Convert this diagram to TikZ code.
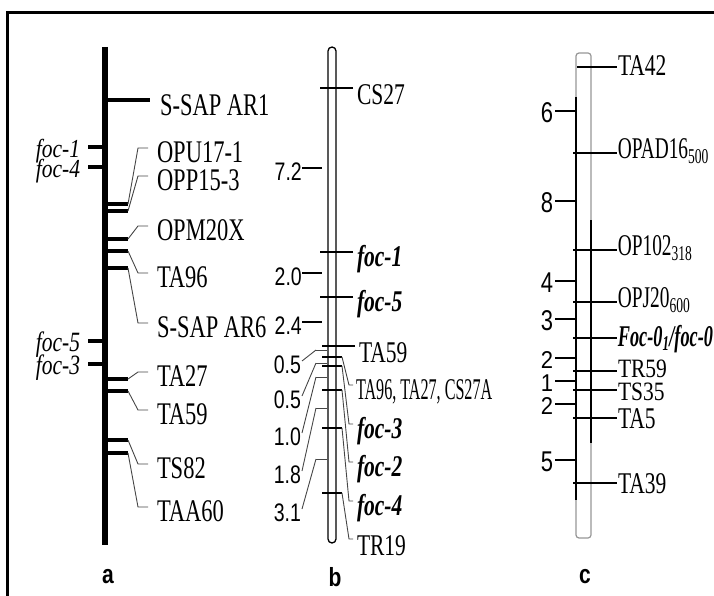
\documentclass[tikz,border=0pt]{standalone}
\usepackage{fontspec}
\setmainfont{Liberation Serif}
\setsansfont{Liberation Sans}
\usetikzlibrary{positioning}
\definecolor{LinkGray}{RGB}{70,70,70}
\definecolor{EdgeGray}{RGB}{150,150,150}

\begin{document}
\begin{tikzpicture}[x=1pt,y=-1pt, every node/.style={inner sep=0pt},
  mlab/.style={anchor=west, yscale=1.4, font=\fontsize{21.5}{22}\selectfont},
  alab/.style={mlab, font=\fontsize{22.5}{23}\selectfont},
  flab/.style={anchor=east, yscale=1.3, font=\fontsize{21.5}{22}\selectfont\itshape},
  fblab/.style={mlab, font=\fontsize{21.5}{22}\selectfont\bfseries\itshape},
  nlab/.style={anchor=east, yscale=1.3, font=\sffamily\fontsize{19.5}{20}\selectfont},
  clab/.style={nlab, font=\sffamily\fontsize{22}{22}\selectfont},
  plab/.style={yscale=1.25, font=\sffamily\bfseries\fontsize{21}{21}\selectfont},
  thickbar/.style={line width=4pt},
  link/.style={LinkGray, line width=0.9pt},
  cross/.style={line width=1.3pt}]
  \useasboundingbox (0,0) rectangle (714,596);
  \draw[line width=3pt] (7,596) -- (7,13) -- (714,13);

  % panel a
  \draw[line width=6.5pt] (105,47) -- (105,545);
  \node[alab, outer xsep=10pt] (sap1) at (150,105) {S-SAP AR1};
  \draw[line width=4.5pt] (105,100) -- ([yshift=5pt]sap1.west);
  \foreach \y in {204,211,239,251,268,379,391,440,453}{
    \draw[thickbar] (105,\y) -- (128,\y);
    \coordinate (a\y) at (128,\y);
  }
  \node[alab, outer xsep=9pt] (opu) at (148,152) {OPU17-1};
  \node[alab, outer xsep=9pt] (opp) at (148,180) {OPP15-3};
  \node[alab, outer xsep=9pt] (opm) at (148,230) {OPM20X};
  \node[alab, outer xsep=9pt] (taa) at (148,277) {TA96};
  \node[alab, outer xsep=9pt] (sap6) at (148,327) {S-SAP AR6};
  \node[alab, outer xsep=9pt] (tab) at (148,376) {TA27};
  \node[alab, outer xsep=9pt] (tac) at (148,414) {TA59};
  \node[alab, outer xsep=9pt] (ts82) at (148,468) {TS82};
  \node[alab, outer xsep=9pt] (taa60) at (148,511) {TAA60};
  \draw[link] (a204) -- ([shift={(-10,-4)}]opu.west) -- ([yshift=4pt]opu.west);
  \draw[link] (a211) -- ([shift={(-10,-4)}]opp.west) -- ([yshift=4pt]opp.west);
  \draw[link] (a239) -- ([shift={(-10,-4)}]opm.west) -- ([yshift=4pt]opm.west);
  \draw[link] (a251) -- ([shift={(-10,-4)}]taa.west) -- ([yshift=4pt]taa.west);
  \draw[link] (a268) -- ([shift={(-10,-4)}]sap6.west) -- ([yshift=4pt]sap6.west);
  \draw[link] (a379) -- ([shift={(-10,-4)}]tab.west) -- ([yshift=4pt]tab.west);
  \draw[link] (a391) -- ([shift={(-10,-4)}]tac.west) -- ([yshift=4pt]tac.west);
  \draw[link] (a440) -- ([shift={(-10,-4)}]ts82.west) -- ([yshift=4pt]ts82.west);
  \draw[link] (a453) -- ([shift={(-10,-4)}]taa60.west) -- ([yshift=4pt]taa60.west);
  \node[flab, outer xsep=8pt, yscale=0.93] (foca1) at (88,151) {foc-1};
  \node[flab, outer xsep=8pt, yscale=0.93] (foca4) at (88,171) {foc-4};
  \node[flab, outer xsep=8pt] (foca5) at (88,345) {foc-5};
  \node[flab, outer xsep=8pt] (foca3) at (88,368) {foc-3};
  \foreach \n in {foca1,foca4,foca5,foca3}
    \draw[thickbar] ([yshift=4pt]\n.east) -- +(17,0);
  \node[plab] (pa) at (108,577) {a};

  % panel b
  \draw[line width=1.3pt, rounded corners=4pt] (328,47) rectangle (336,543);
  \node[mlab, outer xsep=4pt] (cs27) at (353,95) {CS27};
  \node[fblab, outer xsep=4pt] (focb1) at (353,259) {foc-1};
  \node[fblab, outer xsep=4pt] (focb5) at (353,304) {foc-5};
  \node[mlab, outer xsep=4pt] (tad) at (355,353) {TA59};
  \foreach \n in {cs27,focb1,focb5,tad}
    \draw[cross] ([yshift=7pt]\n.west) -- +(-33,0);
  \foreach \y in {357,366,390,428,493}{
    \draw[cross] (322,\y) -- (342,\y);
    \coordinate (b\y) at (342,\y);
  }
  \node[mlab, outer xsep=4pt, xscale=0.75] (trio) at (353,392) {TA96, TA27, CS27A};
  \node[fblab, outer xsep=4pt] (focb3) at (353,431) {foc-3};
  \node[fblab, outer xsep=4pt] (focb2) at (353,469) {foc-2};
  \node[fblab, outer xsep=4pt] (focb4) at (353,508) {foc-4};
  \node[mlab, outer xsep=4pt] (tr19) at (353,546) {TR19};
  \draw[link] (b357) -- ([shift={(-4,-7)}]trio.west) -- ([yshift=7pt]trio.west);
  \draw[link] (b366) -- ([shift={(-4,-7)}]focb3.west) -- ([yshift=7pt]focb3.west);
  \draw[link] (b390) -- ([shift={(-4,-7)}]focb2.west) -- ([yshift=7pt]focb2.west);
  \draw[link] (b428) -- ([shift={(-4,-7)}]focb4.west) -- ([yshift=7pt]focb4.west);
  \draw[link] (b493) -- ([shift={(-4,-7)}]tr19.west) -- ([yshift=7pt]tr19.west);
  \node[nlab] (d72) at (302,172) {7.2};
  \node[nlab] (d20) at (302,277) {2.0};
  \node[nlab] (d24) at (302,326) {2.4};
  \foreach \n in {d72,d20,d24}
    \draw[cross] ([yshift=4pt]\n.east) -- +(20,0);
  \foreach \y in {350,363,377,408,459}{
    \draw[link] (316,\y) -- (327,\y);
    \coordinate (c\y) at (316,\y);
  }
  \node[nlab, outer xsep=1pt] (d05a) at (302,365) {0.5};
  \node[nlab, outer xsep=1pt] (d05b) at (302,400) {0.5};
  \node[nlab, outer xsep=1pt] (d10) at (302,437) {1.0};
  \node[nlab, outer xsep=1pt] (d18) at (302,475) {1.8};
  \node[nlab, outer xsep=1pt] (d31) at (302,513) {3.1};
  \draw[link] (c350) -- ([yshift=4pt]d05a.east);
  \draw[link] (c363) -- ([yshift=4pt]d05b.east);
  \draw[link] (c377) -- ([yshift=4pt]d10.east);
  \draw[link] (c408) -- ([yshift=4pt]d18.east);
  \draw[link] (c459) -- ([yshift=4pt]d31.east);
  \node[plab] (pb) at (335,577) {b};

  % panel c
  \draw[EdgeGray, line width=1.2pt, rounded corners=3pt] (576,53) rectangle (591,538);
  \draw[line width=1.2pt] (576,97) -- (576,500);
  \draw[line width=1.2pt] (591,220) -- (591,443);
  \node[mlab, outer xsep=1pt] (ta42) at (617,66) {TA42};
  \node[mlab, outer xsep=1pt, xscale=0.9] (opad) at (617,151) {OPAD16\textsubscript{500}};
  \node[mlab, outer xsep=1pt, xscale=0.9] (op102) at (617,248) {OP102\textsubscript{318}};
  \node[mlab, outer xsep=1pt, xscale=0.9] (opj) at (617,300) {OPJ20\textsubscript{600}};
  \node[fblab, outer xsep=1pt, xscale=0.85] (foc0) at (617,339) {Foc-0\textsubscript{1}/foc-0};
  \node[mlab, outer xsep=1pt, yscale=0.88] (tr59) at (617,369) {TR59};
  \node[mlab, outer xsep=1pt, yscale=0.88] (ts35) at (617,392) {TS35};
  \node[mlab, outer xsep=1pt] (ta5) at (617,419) {TA5};
  \node[mlab, outer xsep=1pt] (ta39) at (617,484) {TA39};
  \draw[cross] (577,67) -- (ta42.west |- 0,67);
  \draw[cross] (573,153) -- (opad.west |- 0,153);
  \draw[cross] (573,250) -- (op102.west |- 0,250);
  \draw[cross] (573,302) -- (opj.west |- 0,302);
  \draw[cross] (573,338) -- (foc0.west |- 0,338);
  \draw[cross] (573,371) -- (tr59.west |- 0,371);
  \draw[cross] (573,390) -- (ts35.west |- 0,390);
  \draw[cross] (573,418) -- (ta5.west |- 0,418);
  \draw[cross] (573,483) -- (ta39.west |- 0,483);
  \node[clab, outer xsep=2pt] (k6) at (555,113) {6};
  \node[clab, outer xsep=2pt] (k8) at (555,203) {8};
  \node[clab, outer xsep=2pt] (k4) at (555,283) {4};
  \node[clab, outer xsep=2pt] (k3) at (555,321) {3};
  \node[clab, outer xsep=2pt, yscale=0.85] (k2a) at (555,360) {2};
  \node[clab, outer xsep=2pt, yscale=0.85] (k1) at (555,383) {1};
  \node[clab, outer xsep=2pt, yscale=0.85] (k2b) at (555,406) {2};
  \node[clab, outer xsep=2pt] (k5) at (555,462) {5};
  \foreach \n in {k6,k8,k4,k3,k2a,k1,k2b,k5}
    \draw[cross] ([yshift=2pt]\n.east) -- +(20,0);
  \node[plab] (pc) at (585,577) {c};
\end{tikzpicture}
\end{document}
